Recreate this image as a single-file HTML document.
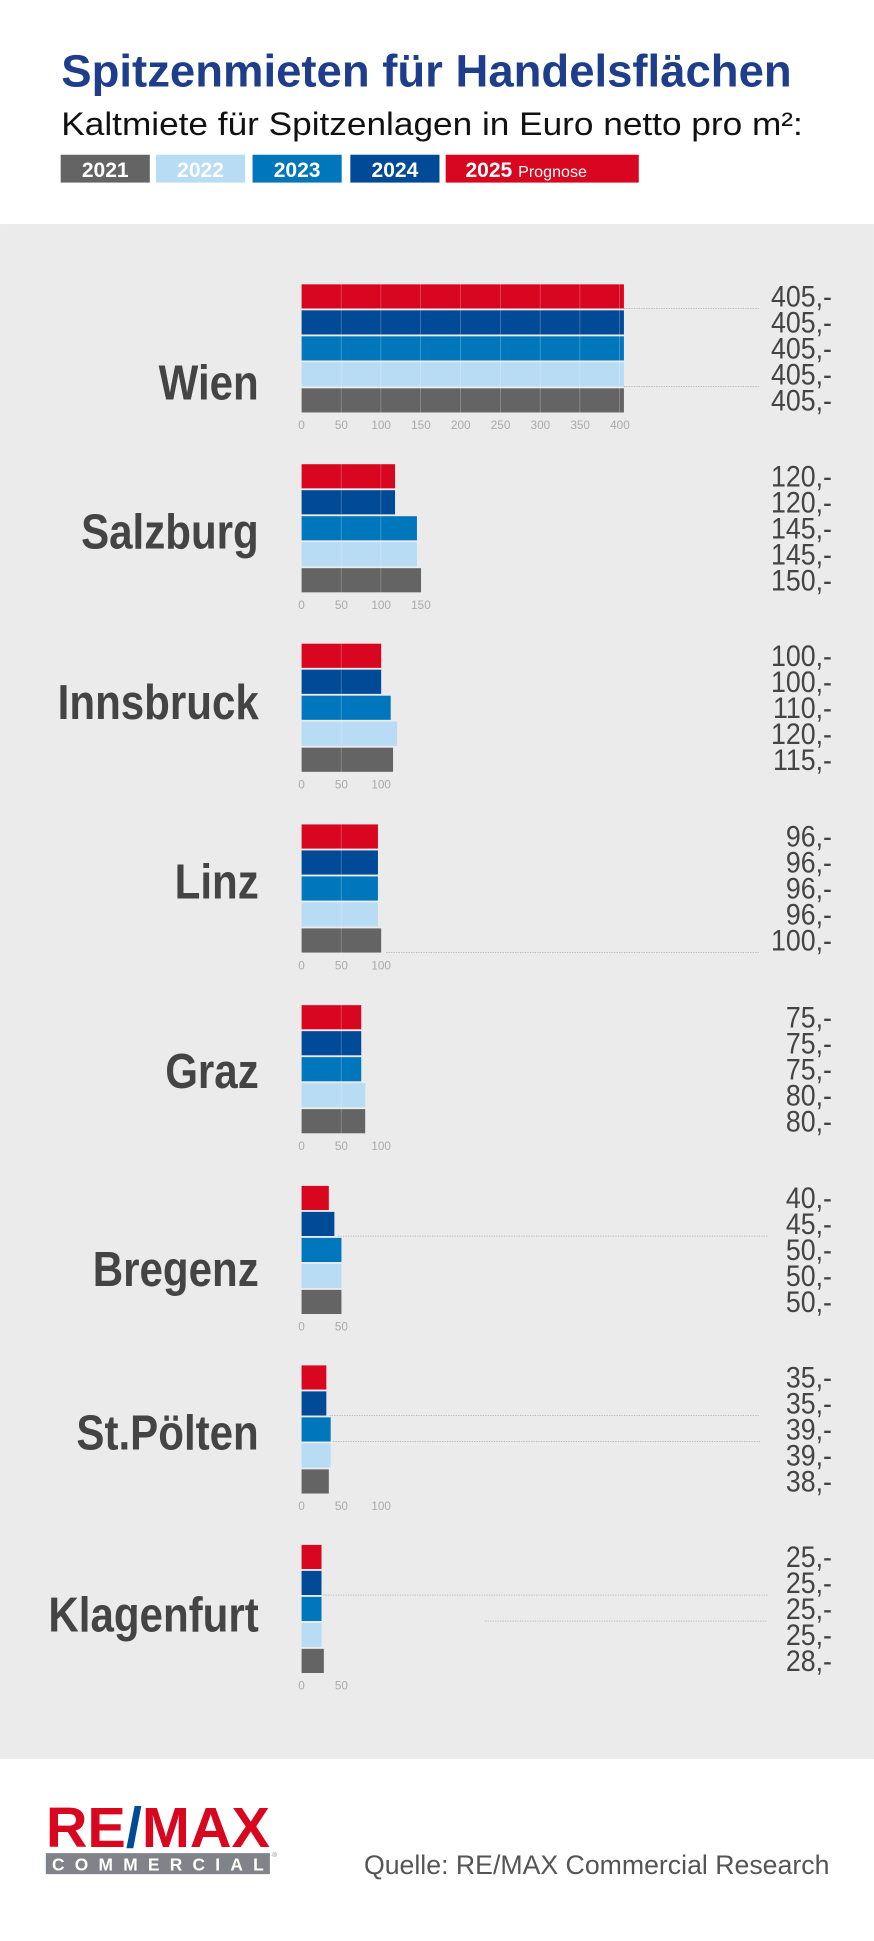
<!DOCTYPE html>
<html><head><meta charset="utf-8"><style>html,body{margin:0;padding:0;background:#fff}svg{display:block}</style></head>
<body>
<svg xmlns="http://www.w3.org/2000/svg" width="874" height="1941" viewBox="0 0 706 1568" font-family="'Liberation Sans', sans-serif">
<defs>
<pattern id="gr" patternUnits="userSpaceOnUse" x="243.6" y="0" width="32.15" height="40">
<rect x="31.75" y="0" width="0.8" height="40" fill="#fff" fill-opacity="0.45"/>
</pattern>
</defs>
<rect width="706" height="1568" fill="#fff"/>
<text x="49.5" y="70" font-size="37" font-weight="bold" fill="#1e3d8a" textLength="590" lengthAdjust="spacingAndGlyphs">Spitzenmieten für Handelsflächen</text>
<text x="49.5" y="109" font-size="26" fill="#111" textLength="599" lengthAdjust="spacingAndGlyphs">Kaltmiete für Spitzenlagen in Euro netto pro m²:</text>
<g font-weight="bold" font-size="17" fill="#fff" text-anchor="middle">
<rect x="49" y="125" width="72" height="22.5" fill="#646464"/><text x="85" y="143">2021</text>
<rect x="126" y="125" width="72" height="22.5" fill="#b7dcf4"/><text x="162" y="143">2022</text>
<rect x="204" y="125" width="72" height="22.5" fill="#0077bd"/><text x="240" y="143">2023</text>
<rect x="283" y="125" width="72" height="22.5" fill="#004a98"/><text x="319" y="143">2024</text>
<rect x="360" y="125" width="156" height="22.5" fill="#d9061f"/>
<text x="376" y="143" text-anchor="start">2025 <tspan font-weight="normal" font-size="13">Prognose</tspan></text>
</g>
<rect x="0" y="181" width="706" height="1240" fill="#ebebeb"/>

<!-- Wien -->
<g transform="translate(0,229.7)">
<g transform="scale(0.85,1)"><text x="245.9" y="93" font-size="40" font-weight="bold" fill="#444" text-anchor="end">Wien</text></g>
<rect x="243.6" y="0" width="260.4" height="19.5" fill="#d9061f"/>
<rect x="243.6" y="21" width="260.4" height="19.5" fill="#004a98"/>
<rect x="243.6" y="42" width="260.4" height="19.5" fill="#0077bd"/>
<rect x="243.6" y="63" width="260.4" height="19.5" fill="#b7dcf4"/>
<rect x="243.6" y="84" width="260.4" height="19.5" fill="#646464"/>
<rect x="243.6" y="0" width="259" height="103.5" fill="url(#gr)"/>
<g transform="scale(0.9,1)" font-size="24" fill="#444" text-anchor="end">
<text x="746.7" y="18">405,-</text><text x="746.7" y="39">405,-</text><text x="746.7" y="60">405,-</text><text x="746.7" y="81">405,-</text><text x="746.7" y="102">405,-</text>
</g>
<g font-size="9.5" fill="#aaa" text-anchor="middle">
<text x="243.6" y="117">0</text><text x="275.75" y="117">50</text><text x="307.9" y="117">100</text><text x="340.05" y="117">150</text><text x="372.2" y="117">200</text><text x="404.35" y="117">250</text><text x="436.5" y="117">300</text><text x="468.65" y="117">350</text><text x="500.8" y="117">400</text>
</g>
<line x1="504" y1="19.5" x2="614" y2="19.5" stroke="#999" stroke-width="0.5" stroke-dasharray="1,1"/>
<line x1="504" y1="82.5" x2="614" y2="82.5" stroke="#999" stroke-width="0.5" stroke-dasharray="1,1"/>
</g>

<!-- Salzburg -->
<g transform="translate(0,375)">
<g transform="scale(0.85,1)"><text x="245.9" y="68" font-size="40" font-weight="bold" fill="#444" text-anchor="end">Salzburg</text></g>
<rect x="243.6" y="0" width="75.5" height="19.5" fill="#d9061f"/>
<rect x="243.6" y="21" width="75.5" height="19.5" fill="#004a98"/>
<rect x="243.6" y="42" width="93.2" height="19.5" fill="#0077bd"/>
<rect x="243.6" y="63" width="93.2" height="19.5" fill="#b7dcf4"/>
<rect x="243.6" y="84" width="96.5" height="19.5" fill="#646464"/>
<rect x="243.6" y="0" width="74" height="40.5" fill="url(#gr)"/>
<rect x="243.6" y="42" width="92" height="61.5" fill="url(#gr)"/>
<g transform="scale(0.9,1)" font-size="24" fill="#444" text-anchor="end">
<text x="746.7" y="18">120,-</text><text x="746.7" y="39">120,-</text><text x="746.7" y="60">145,-</text><text x="746.7" y="81">145,-</text><text x="746.7" y="102">150,-</text>
</g>
<g font-size="9.5" fill="#aaa" text-anchor="middle">
<text x="243.6" y="117">0</text><text x="275.75" y="117">50</text><text x="307.9" y="117">100</text><text x="340.05" y="117">150</text>
</g>
</g>

<!-- Innsbruck -->
<g transform="translate(0,520)">
<g transform="scale(0.85,1)"><text x="245.9" y="61" font-size="40" font-weight="bold" fill="#444" text-anchor="end">Innsbruck</text></g>
<rect x="243.6" y="0" width="64.3" height="19.5" fill="#d9061f"/>
<rect x="243.6" y="21" width="64.3" height="19.5" fill="#004a98"/>
<rect x="243.6" y="42" width="72" height="19.5" fill="#0077bd"/>
<rect x="243.6" y="63" width="77.2" height="19.5" fill="#b7dcf4"/>
<rect x="243.6" y="84" width="73.9" height="19.5" fill="#646464"/>
<rect x="243.6" y="0" width="63" height="103.5" fill="url(#gr)"/>
<g transform="scale(0.9,1)" font-size="24" fill="#444" text-anchor="end">
<text x="746.7" y="18">100,-</text><text x="746.7" y="39">100,-</text><text x="746.7" y="60">110,-</text><text x="746.7" y="81">120,-</text><text x="746.7" y="102">115,-</text>
</g>
<g font-size="9.5" fill="#aaa" text-anchor="middle">
<text x="243.6" y="117">0</text><text x="275.75" y="117">50</text><text x="307.9" y="117">100</text>
</g>
</g>

<!-- Linz -->
<g transform="translate(0,666)">
<g transform="scale(0.85,1)"><text x="245.9" y="60" font-size="40" font-weight="bold" fill="#444" text-anchor="end">Linz</text></g>
<rect x="243.6" y="0" width="61.7" height="19.5" fill="#d9061f"/>
<rect x="243.6" y="21" width="61.7" height="19.5" fill="#004a98"/>
<rect x="243.6" y="42" width="61.7" height="19.5" fill="#0077bd"/>
<rect x="243.6" y="63" width="61.7" height="19.5" fill="#b7dcf4"/>
<rect x="243.6" y="84" width="64.3" height="19.5" fill="#646464"/>
<rect x="243.6" y="0" width="60" height="103.5" fill="url(#gr)"/>
<g transform="scale(0.9,1)" font-size="24" fill="#444" text-anchor="end">
<text x="746.7" y="18">96,-</text><text x="746.7" y="39">96,-</text><text x="746.7" y="60">96,-</text><text x="746.7" y="81">96,-</text><text x="746.7" y="102">100,-</text>
</g>
<g font-size="9.5" fill="#aaa" text-anchor="middle">
<text x="243.6" y="117">0</text><text x="275.75" y="117">50</text><text x="307.9" y="117">100</text>
</g>
<line x1="312" y1="103.5" x2="614" y2="103.5" stroke="#999" stroke-width="0.5" stroke-dasharray="1,1"/>
</g>

<!-- Graz -->
<g transform="translate(0,812)">
<g transform="scale(0.85,1)"><text x="245.9" y="67" font-size="40" font-weight="bold" fill="#444" text-anchor="end">Graz</text></g>
<rect x="243.6" y="0" width="48.2" height="19.5" fill="#d9061f"/>
<rect x="243.6" y="21" width="48.2" height="19.5" fill="#004a98"/>
<rect x="243.6" y="42" width="48.2" height="19.5" fill="#0077bd"/>
<rect x="243.6" y="63" width="51.4" height="19.5" fill="#b7dcf4"/>
<rect x="243.6" y="84" width="51.4" height="19.5" fill="#646464"/>
<rect x="243.6" y="0" width="47" height="103.5" fill="url(#gr)"/>
<g transform="scale(0.9,1)" font-size="24" fill="#444" text-anchor="end">
<text x="746.7" y="18">75,-</text><text x="746.7" y="39">75,-</text><text x="746.7" y="60">75,-</text><text x="746.7" y="81">80,-</text><text x="746.7" y="102">80,-</text>
</g>
<g font-size="9.5" fill="#aaa" text-anchor="middle">
<text x="243.6" y="117">0</text><text x="275.75" y="117">50</text><text x="307.9" y="117">100</text>
</g>
</g>

<!-- Bregenz -->
<g transform="translate(0,958)">
<g transform="scale(0.85,1)"><text x="245.9" y="81" font-size="40" font-weight="bold" fill="#444" text-anchor="end">Bregenz</text></g>
<rect x="243.6" y="0" width="22" height="19.5" fill="#d9061f"/>
<rect x="243.6" y="21" width="26.5" height="19.5" fill="#004a98"/>
<rect x="243.6" y="42" width="32.2" height="19.5" fill="#0077bd"/>
<rect x="243.6" y="63" width="32.2" height="19.5" fill="#b7dcf4"/>
<rect x="243.6" y="84" width="32.2" height="19.5" fill="#646464"/>
<g transform="scale(0.9,1)" font-size="24" fill="#444" text-anchor="end">
<text x="746.7" y="18">40,-</text><text x="746.7" y="39">45,-</text><text x="746.7" y="60">50,-</text><text x="746.7" y="81">50,-</text><text x="746.7" y="102">50,-</text>
</g>
<g font-size="9.5" fill="#aaa" text-anchor="middle">
<text x="243.6" y="117">0</text><text x="275.75" y="117">50</text>
</g>
<line x1="273" y1="40.5" x2="620" y2="40.5" stroke="#999" stroke-width="0.5" stroke-dasharray="1,1"/>
</g>

<!-- St.Pölten -->
<g transform="translate(0,1103)">
<g transform="scale(0.85,1)"><text x="245.9" y="68" font-size="40" font-weight="bold" fill="#444" text-anchor="end">St.Pölten</text></g>
<rect x="243.6" y="0" width="20" height="19.5" fill="#d9061f"/>
<rect x="243.6" y="21" width="20" height="19.5" fill="#004a98"/>
<rect x="243.6" y="42" width="23.5" height="19.5" fill="#0077bd"/>
<rect x="243.6" y="63" width="23.5" height="19.5" fill="#b7dcf4"/>
<rect x="243.6" y="84" width="22" height="19.5" fill="#646464"/>
<g transform="scale(0.9,1)" font-size="24" fill="#444" text-anchor="end">
<text x="746.7" y="18">35,-</text><text x="746.7" y="39">35,-</text><text x="746.7" y="60">39,-</text><text x="746.7" y="81">39,-</text><text x="746.7" y="102">38,-</text>
</g>
<g font-size="9.5" fill="#aaa" text-anchor="middle">
<text x="243.6" y="117">0</text><text x="275.75" y="117">50</text><text x="307.9" y="117">100</text>
</g>
<line x1="266" y1="40.5" x2="614" y2="40.5" stroke="#999" stroke-width="0.5" stroke-dasharray="1,1"/>
<line x1="269" y1="61.5" x2="614" y2="61.5" stroke="#999" stroke-width="0.5" stroke-dasharray="1,1"/>
</g>

<!-- Klagenfurt -->
<g transform="translate(0,1248)">
<g transform="scale(0.85,1)"><text x="245.9" y="70" font-size="40" font-weight="bold" fill="#444" text-anchor="end">Klagenfurt</text></g>
<rect x="243.6" y="0" width="16.1" height="19.5" fill="#d9061f"/>
<rect x="243.6" y="21" width="16.1" height="19.5" fill="#004a98"/>
<rect x="243.6" y="42" width="16.1" height="19.5" fill="#0077bd"/>
<rect x="243.6" y="63" width="16.1" height="19.5" fill="#b7dcf4"/>
<rect x="243.6" y="84" width="18.0" height="19.5" fill="#646464"/>
<g transform="scale(0.9,1)" font-size="24" fill="#444" text-anchor="end">
<text x="746.7" y="18">25,-</text><text x="746.7" y="39">25,-</text><text x="746.7" y="60">25,-</text><text x="746.7" y="81">25,-</text><text x="746.7" y="102">28,-</text>
</g>
<g font-size="9.5" fill="#aaa" text-anchor="middle">
<text x="243.6" y="117">0</text><text x="275.75" y="117">50</text>
</g>
<line x1="261" y1="40.5" x2="620" y2="40.5" stroke="#999" stroke-width="0.5" stroke-dasharray="1,1"/>
<line x1="392" y1="61.5" x2="620" y2="61.5" stroke="#999" stroke-width="0.5" stroke-dasharray="1,1"/>
</g>

<text x="37" y="1492" font-size="46" font-weight="bold" fill="#d9061f" textLength="181" lengthAdjust="spacingAndGlyphs">RE<tspan fill="#004a98">/</tspan>MAX</text>
<rect x="37" y="1497" width="181" height="17" fill="#80848a"/>
<text x="42" y="1511" font-size="14" font-weight="bold" fill="#fff" textLength="171" lengthAdjust="spacing">COMMERCIAL</text>
<text x="220" y="1500" font-size="5" fill="#80848a">®</text>
<text x="670" y="1514" font-size="22" fill="#555" text-anchor="end" textLength="376" lengthAdjust="spacingAndGlyphs">Quelle: RE/MAX Commercial Research</text>
</svg>
</body></html>
